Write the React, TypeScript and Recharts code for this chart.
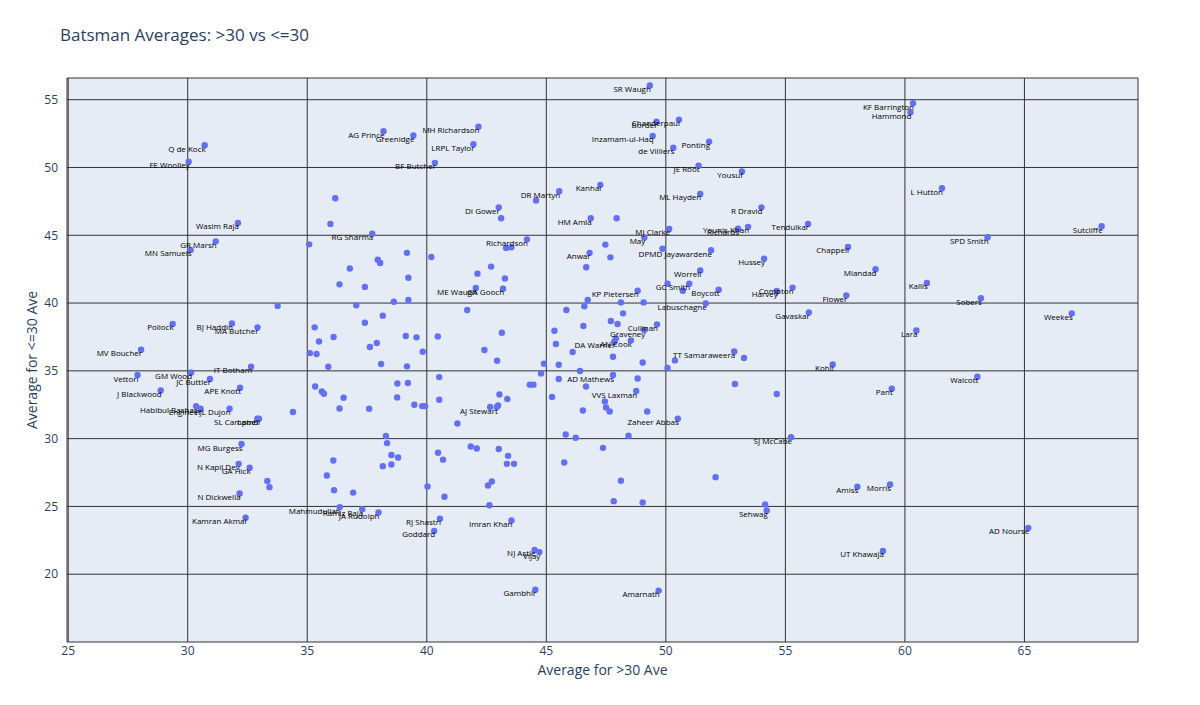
import { CartesianGrid, Scatter, ScatterChart, XAxis, YAxis } from "recharts";

// labelled batsmen: name, average for >30 innings, average for <=30 innings
const labeledNames = [
  "SR Waugh", "KF Barrington", "Hammond", "Chanderpaul", "Border", "MH Richardson", "AG Prince", "Greenidge",
  "Inzamam-ul-Haq", "Ponting", "LRPL Taylor", "Q de Kock", "de Villiers", "FE Woolley", "BF Butcher", "JE Root",
  "Yousuf", "L Hutton", "Kanhai", "DR Martyn", "ML Hayden", "DI Gower", "R Dravid", "HM Amla",
  "Wasim Raja", "Tendulkar", "Sutcliffe", "Younis Khan", "Richards", "MJ Clarke", "RG Sharma", "SPD Smith",
  "May", "Richardson", "GR Marsh", "Chappell", "MN Samuels", "DPMD Jayawardene", "Anwar", "Hussey",
  "Miandad", "Worrell", "Kallis", "GC Smith", "Compton", "ME Waugh", "GA Gooch", "Boycott",
  "KP Pietersen", "Harvey", "Flower", "Sobers", "Labuschagne", "Gavaskar", "Weekes", "BJ Haddin",
  "Pollock", "Cullinan", "MA Butcher", "Graveney", "Lara", "AN Cook", "DA Warner", "MV Boucher",
  "TT Samaraweera", "Kohli", "IT Botham", "GM Wood", "Vettori", "AD Mathews", "Walcott", "JC Buttler",
  "APE Knott", "Pant", "J Blackwood", "VVS Laxman", "Habibul Bashar", "AJ Stewart", "Engineer", "PJL Dujon",
  "SL Campbell", "Lamb", "Zaheer Abbas", "SJ McCabe", "MG Burgess", "N Kapil Dev", "GA Hick", "Morris",
  "Amiss", "N Dickwella", "Mahmudullah", "Ramiz Raja", "Sehwag", "JA Rudolph", "Kamran Akmal", "RJ Shastri",
  "Imran Khan", "AD Nourse", "Goddard", "NJ Astle", "UT Khawaja", "Vijay", "Gambhir", "Amarnath",
];

const labeledOver30 = [
  49.33, 60.34, 60.23, 50.55, 49.61, 42.16, 38.19, 39.44,
  49.45, 51.81, 41.95, 30.71, 50.31, 30.04, 40.34, 51.37,
  53.18, 61.55, 47.26, 45.54, 51.44, 43.01, 54.0, 46.86,
  32.1, 55.95, 68.23, 53.44, 53.02, 50.14, 37.72, 63.46,
  49.1, 44.19, 31.17, 57.62, 30.12, 51.89, 46.81, 54.11,
  58.77, 51.44, 60.92, 50.98, 55.3, 42.05, 43.19, 52.21,
  48.82, 54.64, 57.55, 63.18, 51.67, 55.98, 66.98, 31.85,
  29.37, 49.63, 32.92, 49.1, 60.48, 48.54, 47.84, 28.05,
  52.86, 56.98, 32.65, 30.14, 27.9, 47.79, 63.03, 30.93,
  32.19, 59.45, 28.87, 48.76, 30.35, 42.93, 30.54, 31.75,
  32.98, 32.91, 50.5, 55.24, 32.25, 32.13, 32.59, 59.38,
  58.01, 32.17, 36.36, 37.3, 54.22, 37.98, 32.42, 40.55,
  43.54, 65.16, 40.31, 44.51, 59.08, 44.71, 44.54, 49.7,
];

const labeledUpTo30 = [
  56.05, 54.74, 54.08, 53.52, 53.37, 53.0, 52.67, 52.36,
  52.33, 51.91, 51.71, 51.64, 51.45, 50.42, 50.34, 50.14,
  49.7, 48.47, 48.72, 48.25, 48.05, 47.06, 47.06, 46.25,
  45.91, 45.84, 45.66, 45.62, 45.49, 45.47, 45.12, 44.85,
  44.83, 44.7, 44.55, 44.14, 43.92, 43.89, 43.7, 43.28,
  42.49, 42.41, 41.48, 41.43, 41.14, 41.11, 41.06, 40.99,
  40.91, 40.89, 40.57, 40.35, 39.98, 39.31, 39.24, 38.5,
  38.46, 38.43, 38.21, 38.01, 37.98, 37.25, 37.13, 36.56,
  36.43, 35.47, 35.3, 34.88, 34.69, 34.69, 34.57, 34.4,
  33.75, 33.68, 33.55, 33.51, 32.4, 32.33, 32.2, 32.2,
  31.47, 31.47, 31.47, 30.11, 29.6, 28.14, 27.85, 26.62,
  26.45, 25.95, 24.95, 24.8, 24.7, 24.55, 24.16, 24.1,
  23.96, 23.42, 23.2, 21.79, 21.72, 21.63, 18.86, 18.79,
];

// batsmen drawn without a label
const otherOver30 = [
  36.17, 35.97, 35.08, 44.57, 43.11, 43.32, 43.54, 47.47, 47.68, 39.17,
  40.19, 37.95, 38.05, 36.78, 42.69, 46.67, 42.12, 43.27, 36.35, 37.41,
  39.23, 38.62, 39.23, 37.05, 38.16, 41.69, 37.41, 36.1, 37.91, 37.62,
  39.12, 39.57, 39.83, 40.46, 43.14, 42.41, 42.94, 38.09, 39.17, 44.9,
  44.78, 40.52, 38.77, 39.21, 36.52, 38.76, 36.35, 37.59, 39.48, 39.81,
  39.93, 40.52, 44.31, 44.46, 43.04, 43.37, 42.65, 42.98, 41.28, 45.52,
  45.24, 46.53, 47.45, 47.5, 47.65, 46.41, 46.66, 45.52, 46.1, 47.91,
  47.7, 47.98, 48.21, 48.12, 49.07, 47.79, 49.03, 50.38, 50.07, 48.82,
  49.22, 48.44, 47.37, 52.89, 54.64, 53.27, 50.07, 50.71, 46.73, 46.59,
  45.84, 45.34, 45.4, 46.55, 45.81, 46.23, 38.29, 38.34, 38.52, 38.8,
  40.47, 41.84, 42.09, 43.01, 43.4, 40.68, 43.35, 43.65, 38.16, 38.52,
  45.75, 36.12, 36.92, 40.03, 40.74, 42.56, 42.72, 42.62, 33.33, 33.42,
  36.09, 35.82, 48.12, 47.82, 49.03, 52.08, 54.15, 33.76, 34.4, 35.31,
  35.49, 35.11, 35.39, 35.88, 35.33, 35.61, 35.7, 47.94, 49.86,
];

const otherUpTo30 = [
  47.73, 45.84, 44.33, 47.56, 46.25, 44.07, 44.11, 44.31, 43.37, 43.7,
  43.4, 43.2, 42.96, 42.55, 42.69, 42.64, 42.17, 41.82, 41.38, 41.19,
  41.87, 40.1, 40.23, 39.83, 39.07, 39.49, 38.55, 37.5, 37.05, 36.76,
  37.57, 37.47, 36.41, 37.54, 37.81, 36.54, 35.75, 35.5, 35.33, 35.53,
  34.81, 34.54, 34.07, 34.1, 33.02, 33.04, 32.22, 32.2, 32.5, 32.4,
  32.4, 32.87, 33.98, 33.98, 33.26, 32.92, 32.33, 32.45, 31.12, 35.45,
  33.07, 32.08, 32.74, 32.3, 32.0, 34.99, 33.85, 34.4, 36.39, 37.38,
  38.68, 38.46, 39.24, 40.05, 40.05, 36.04, 35.62, 35.77, 35.21, 34.44,
  32.0, 30.21, 29.32, 34.03, 33.29, 35.95, 41.43, 40.91, 40.23, 39.76,
  39.49, 37.96, 36.98, 38.31, 30.31, 30.06, 30.19, 29.67, 28.79, 28.61,
  28.96, 29.42, 29.27, 29.23, 28.73, 28.45, 28.14, 28.14, 27.97, 28.09,
  28.24, 26.2, 26.02, 26.47, 25.71, 26.54, 26.84, 25.09, 26.87, 26.42,
  28.39, 27.28, 26.89, 25.39, 25.29, 27.16, 25.14, 39.79, 31.96, 38.21,
  37.17, 36.31, 36.24, 35.3, 33.85, 33.48, 33.31, 46.25, 44.01,
];

const xTicks = [25, 30, 35, 40, 45, 50, 55, 60, 65];
const yTicks = [20, 25, 30, 35, 40, 45, 50, 55];

const labeled = labeledNames.map((name, i) => ({ name, x: labeledOver30[i], y: labeledUpTo30[i] }));
const others = otherOver30.map((x, i) => ({ name: "", x, y: otherUpTo30[i] }));
const allPoints = [...others, ...labeled];

const font = "'Open Sans', verdana, arial, sans-serif";
const tickStyle = { fontSize: 12, fill: "#2a3f5f", fontFamily: font };

const Dot = (props: any) => <circle cx={props.cx} cy={props.cy} r={3.2} fill="#636efa" />;

const NameLabel = (props: any) => (
  <text x={props.cx + 1} y={props.cy + 3} textAnchor="end" dominantBaseline="central" fontSize={8} fontFamily={font} fill="#000">
    {props.payload.name}
  </text>
);

export default function App() {
  return (
    <div style={{ position: "absolute", left: 0, top: 0, width: 1200, height: 705, background: "#fff" }}>
      <div style={{ position: "absolute", left: 60, top: 26, fontSize: 17, lineHeight: 1, color: "#2a3f5f", fontFamily: font }}>
        Batsman Averages: &gt;30 vs &lt;=30
      </div>
      <ScatterChart width={1200} height={705} margin={{ top: 78, right: 62, bottom: 0, left: 0 }}>
        <CartesianGrid fill="#E5ECF6" stroke="#333" strokeWidth={1} fillOpacity={1} />
        <XAxis
          type="number"
          dataKey="x"
          domain={[24.95, 69.75]}
          ticks={xTicks}
          allowDataOverflow
          height={63}
          axisLine={false}
          tickLine={false}
          tickSize={0}
          tickMargin={4}
          tick={tickStyle}
          label={{ value: "Average for >30 Ave", position: "insideBottom", offset: 30, style: { fontSize: 14, fill: "#2a3f5f", fontFamily: font } }}
        />
        <YAxis
          type="number"
          dataKey="y"
          domain={[15, 56.6]}
          ticks={yTicks}
          allowDataOverflow
          width={67}
          axisLine={false}
          tickLine={false}
          tickSize={0}
          tickMargin={9}
          tick={tickStyle}
          label={{ value: "Average for <=30 Ave", angle: -90, position: "insideLeft", offset: 32, style: { textAnchor: "middle", fontSize: 14, fill: "#2a3f5f", fontFamily: font } }}
        />
        <Scatter data={allPoints} shape={Dot} isAnimationActive={false} />
        <Scatter data={labeled} shape={NameLabel} isAnimationActive={false} />
      </ScatterChart>
    </div>
  );
}
